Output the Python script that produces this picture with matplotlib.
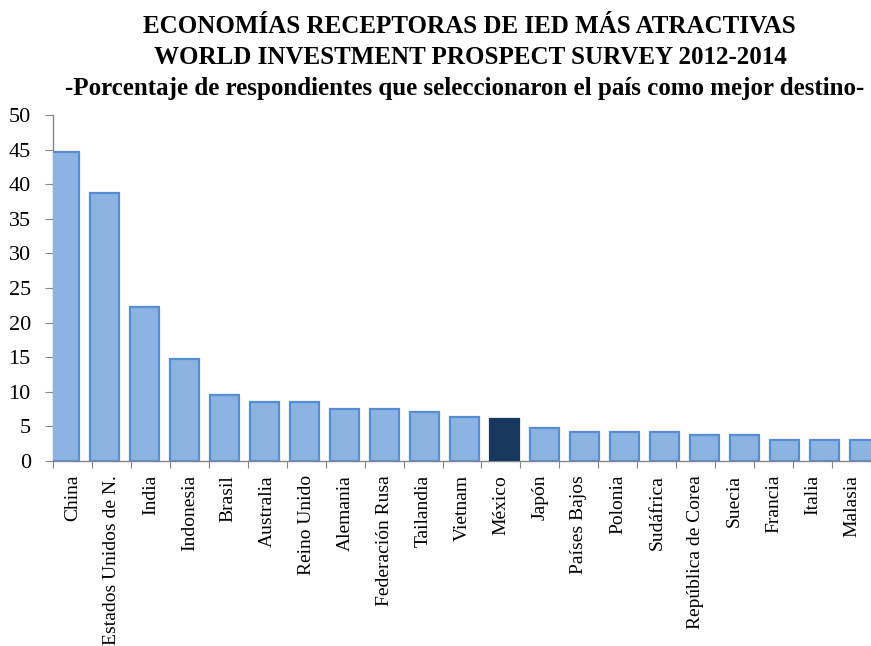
import matplotlib.pyplot as plt
import numpy as np

# fuente tipo Times
plt.rcParams['font.family'] = ['Liberation Serif', 'DejaVu Serif']

paises = ["China", "Estados Unidos de N.", "India", "Indonesia", "Brasil",
          "Australia", "Reino Unido", "Alemania", "Federación Rusa", "Tailandia",
          "Vietnam", "México", "Japón", "Países Bajos", "Polonia", "Sudáfrica",
          "República de Corea", "Suecia", "Francia", "Italia", "Malasia"]
porcentaje = [44.6, 38.7, 22.2, 14.7, 9.6, 8.5, 8.5, 7.5, 7.5, 7.1,
              6.4, 6.0, 4.7, 4.2, 4.2, 4.2, 3.7, 3.7, 3.1, 3.1, 3.1]
destacado = "México"

color_barra = "#8DB3E2"
color_borde = "#558ED5"
color_mexico = "#17375E"
gris = "#868686"

fig = plt.figure(figsize=(8.71, 6.46), dpi=100)
ax = fig.add_axes([53 / 871, 1 - 461 / 646, 818 / 871, 346 / 646])

x = np.arange(len(paises))
# las barras del original van un poco mas separadas que las marcas del eje
pos = x * 1.027 - 0.2
colores = [color_mexico if p == destacado else color_barra for p in paises]
bordes = [color_mexico if p == destacado else color_borde for p in paises]
ax.bar(pos, porcentaje, width=0.75, color=colores, edgecolor=bordes, linewidth=1.6, zorder=3)

ax.set_ylim(0, 50)
ax.set_xlim(-0.5, len(paises) - 0.5)
ax.set_yticks(np.arange(0, 51, 5))
ax.tick_params(axis='y', labelsize=16, length=6, color=gris, pad=10)

# marcas entre categorias, etiquetas en minor ticks
ax.set_xticks(np.arange(len(paises) + 1) - 0.5)
ax.set_xticklabels([])
ax.tick_params(axis='x', which='major', length=5, color=gris, direction='out')
ax.set_xticks(x, minor=True)
ax.set_xticklabels(paises, minor=True, rotation=90, fontsize=14, va='top', ha='center')
ax.tick_params(axis='x', which='minor', length=0, pad=10)

for s in ['top', 'right']:
    ax.spines[s].set_visible(False)
for s in ['left', 'bottom']:
    ax.spines[s].set_color(gris)
    ax.spines[s].set_linewidth(1.0)

fig.text(0.539, 1 - 33 / 646, "ECONOMÍAS RECEPTORAS DE IED MÁS ATRACTIVAS",
         ha='center', va='baseline', fontsize=18, fontweight='bold')
fig.text(0.540, 1 - 64 / 646, "WORLD INVESTMENT PROSPECT SURVEY 2012-2014",
         ha='center', va='baseline', fontsize=18, fontweight='bold')
fig.text(0.534, 1 - 95 / 646, "-Porcentaje de respondientes que seleccionaron el país como mejor destino-",
         ha='center', va='baseline', fontsize=18, fontweight='bold')

fig.savefig("out.png", dpi=100, facecolor='white')
